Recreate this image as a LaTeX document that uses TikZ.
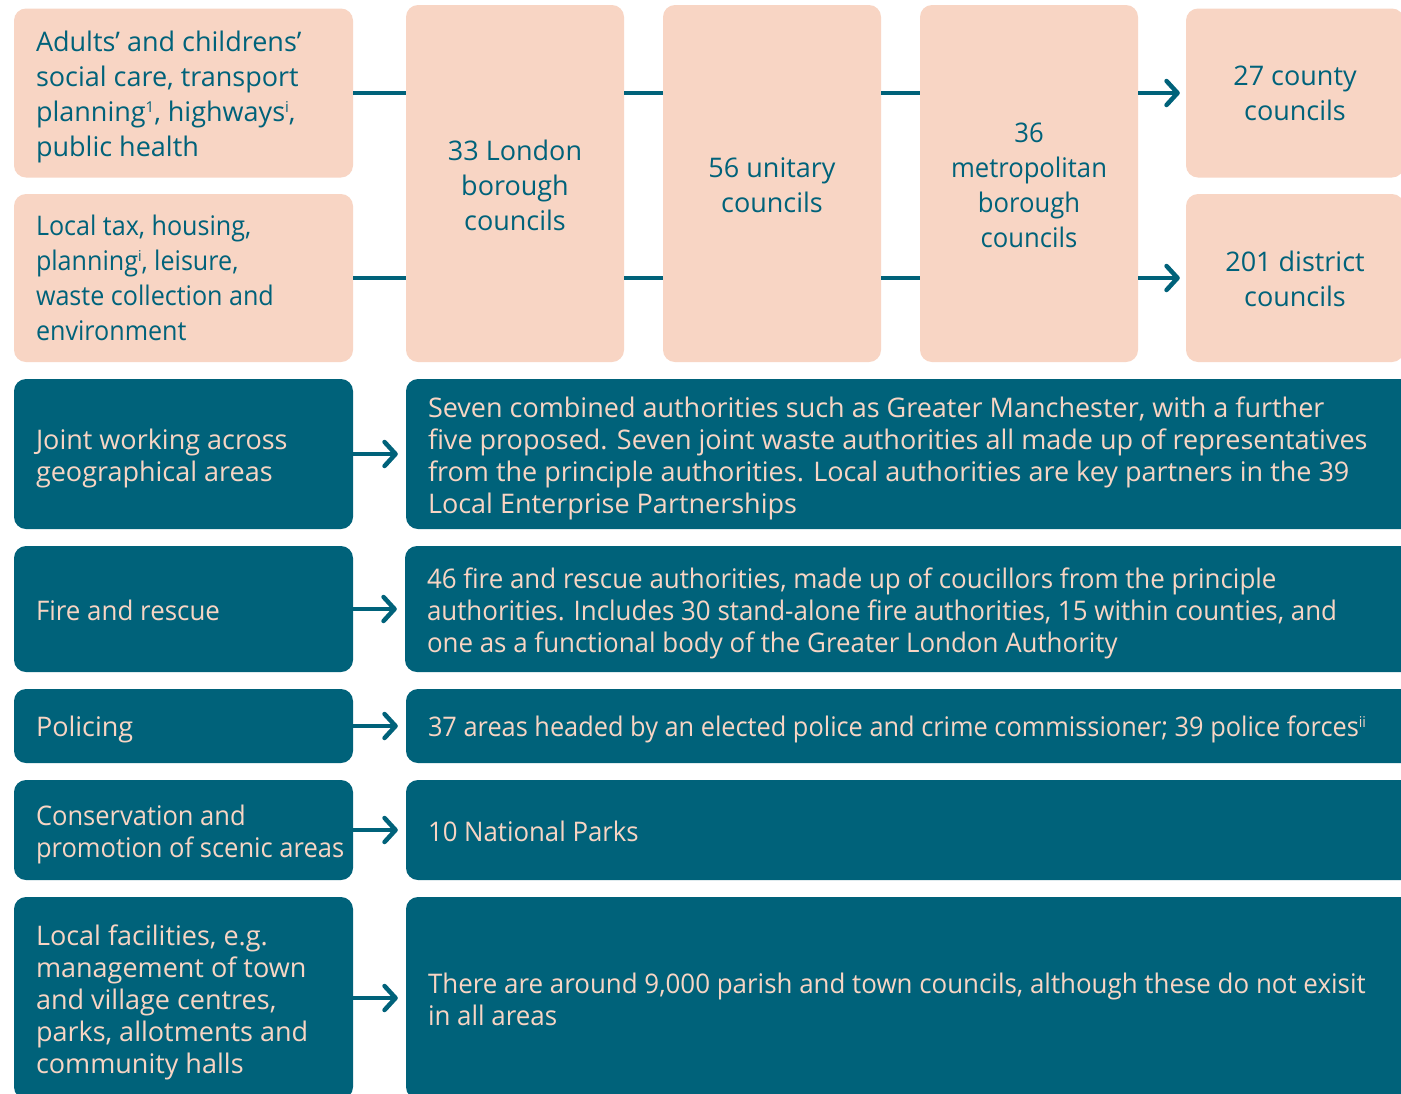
\documentclass[tikz,border=0pt]{standalone}
\usepackage{fontspec}
\setmainfont{Open Sans}
\usepackage{graphicx}
\usetikzlibrary{arrows.meta}
\definecolor{peach}{HTML}{F8D5C4}
\definecolor{dteal}{HTML}{00627A}
\newcommand\sqz[3]{\scalebox{#1}[1]{\begin{tabular}{@{}#2@{}}#3\end{tabular}}}
\newcommand\sups[1]{\raisebox{9pt}{\fontsize{15}{15}\selectfont #1}}
\begin{document}
\begin{tikzpicture}[x=1pt,y=-1pt,
  pbox/.style={fill=peach, rounded corners=12pt, inner sep=0pt},
  tbox/.style={fill=dteal, rounded corners=12pt, inner sep=0pt},
  ptext/.style={text=dteal, font=\fontsize{27}{35}\selectfont, inner sep=0pt},
  ttext/.style={text=peach, font=\fontsize{27}{32}\selectfont, inner sep=0pt, align=left, anchor=west, yshift=-5pt},
  link/.style={draw=dteal, line width=4.5pt},
  arr/.style={link, -{Straight Barb[length=11pt,width=24pt,round]}}]
\clip (0,0) rectangle (1401,1093);
\fill[white] (0,0) rectangle (1401,1093);
% top peach boxes
\node[pbox, minimum width=339, minimum height=169] (a1) at (183.5,93) {};
\node[ptext, anchor=west, align=left, yshift=-4pt] (a1t) at ([xshift=22pt]a1.west) {\sqz{1}{l}{Adults’ and childrens’\\ social care, transport\\ planning\sups{1}, highways\sups{i},\\ public health}};
\node[pbox, minimum width=339, minimum height=168] (a2) at (183.5,278) {};
\node[ptext, anchor=west, align=left, yshift=-3pt] (a2t) at ([xshift=22pt]a2.west) {\sqz{0.93}{l}{Local tax, housing,\\ planning\sups{i}, leisure,\\ waste collection and\\ environment}};
\node[pbox, minimum width=218, minimum height=357] (lon) at (515,183.5) {};
\node[ptext, yshift=-5pt] (lont) at (lon.center) {\sqz{1}{c}{33 London\\ borough\\ councils}};
\node[pbox, minimum width=218, minimum height=357] (uni) at (772,183.5) {};
\node[ptext, yshift=-4pt] (unit) at (uni.center) {\sqz{1}{c}{56 unitary\\ councils}};
\node[pbox, minimum width=218, minimum height=357] (met) at (1029,183.5) {};
\node[ptext, yshift=-4pt] (mett) at (met.center) {\sqz{0.95}{c}{36\\ metropolitan\\ borough\\ councils}};
\node[pbox, minimum width=218, minimum height=169] (cty) at (1295,93) {};
\node[ptext, yshift=-3pt] (ctyt) at (cty.center) {\sqz{1}{c}{27 county\\ councils}};
\node[pbox, minimum width=218, minimum height=168] (dis) at (1295,278) {};
\node[ptext, yshift=-4pt] (dist) at (dis.center) {\sqz{1}{c}{201 district\\ councils}};
\draw[link] (a1.east) -- (a1.east -| lon.west);
\draw[link] (a1.east -| lon.east) -- (a1.east -| uni.west);
\draw[link] (a1.east -| uni.east) -- (a1.east -| met.west);
\draw[arr, shorten >=6pt] (a1.east -| met.east) -- (cty.west);
\draw[link] (a2.east) -- (a2.east -| lon.west);
\draw[link] (a2.east -| lon.east) -- (a2.east -| uni.west);
\draw[link] (a2.east -| uni.east) -- (a2.east -| met.west);
\draw[arr, shorten >=6pt] (a2.east -| met.east) -- (dis.west);
% teal rows
\node[tbox, minimum width=339, minimum height=150] (j1) at (183.5,454) {};
\node[ttext] (j1t) at ([xshift=22pt]j1.west) {\sqz{1}{l}{Joint working across\\ geographical areas}};
\node[tbox, minimum width=1034, minimum height=150] (j2) at (923,454) {};
\node[ttext] (j2t) at ([xshift=22pt]j2.west) {\sqz{1}{l}{Seven combined authorities such as Greater Manchester, with a further\\ five proposed. Seven joint waste authorities all made up of representatives\\ from the principle authorities. Local authorities are key partners in the 39\\ Local Enterprise Partnerships}};
\node[tbox, minimum width=339, minimum height=126] (f1) at (183.5,609) {};
\node[ttext] (f1t) at ([xshift=22pt]f1.west) {\sqz{0.96}{l}{Fire and rescue}};
\node[tbox, minimum width=1034, minimum height=126] (f2) at (922,609) {};
\node[ttext] (f2t) at ([xshift=22pt]f2.west) {\sqz{0.96}{l}{46 fire and rescue authorities, made up of coucillors from the principle\\ authorities. Includes 30 stand-alone fire authorities, 15 within counties, and\\ one as a functional body of the Greater London Authority}};
\node[tbox, minimum width=339, minimum height=74] (p1) at (183.5,726) {};
\node[ttext, yshift=2pt] (p1t) at ([xshift=22pt]p1.west) {Policing};
\node[tbox, minimum width=1034, minimum height=74] (p2) at (923,726) {};
\node[ttext, yshift=2pt] (p2t) at ([xshift=22pt]p2.west) {\resizebox{938pt}{\height}{37 areas headed by an elected police and crime commissioner; 39 police forces\sups{ii}}};
\node[tbox, minimum width=339, minimum height=100] (c1) at (183.5,830) {};
\node[ttext] (c1t) at ([xshift=22pt]c1.west) {\sqz{0.945}{l}{Conservation and\\ promotion of scenic areas}};
\node[tbox, minimum width=1034, minimum height=100] (c2) at (923,830) {};
\node[ttext] (c2t) at ([xshift=22pt]c2.west) {\sqz{0.955}{l}{10 National Parks}};
\node[tbox, minimum width=339, minimum height=202] (l1) at (183.5,998) {};
\node[ttext] (l1t) at ([xshift=22pt]l1.west) {\sqz{1}{l}{Local facilities, e.g.\\ management of town\\ and village centres,\\ parks, allotments and\\ community halls}};
\node[tbox, minimum width=1034, minimum height=202] (l2) at (923,998) {};
\node[ttext] (l2t) at ([xshift=22pt]l2.west) {\sqz{0.96}{l}{There are around 9,000 parish and town councils, although these do not exisit\\ in all areas}};
\foreach \a/\b in {j1/j2,f1/f2,p1/p2,c1/c2,l1/l2}
  \draw[arr, shorten >=8pt] (\a.east) -- (\b.west);
\end{tikzpicture}
\end{document}
